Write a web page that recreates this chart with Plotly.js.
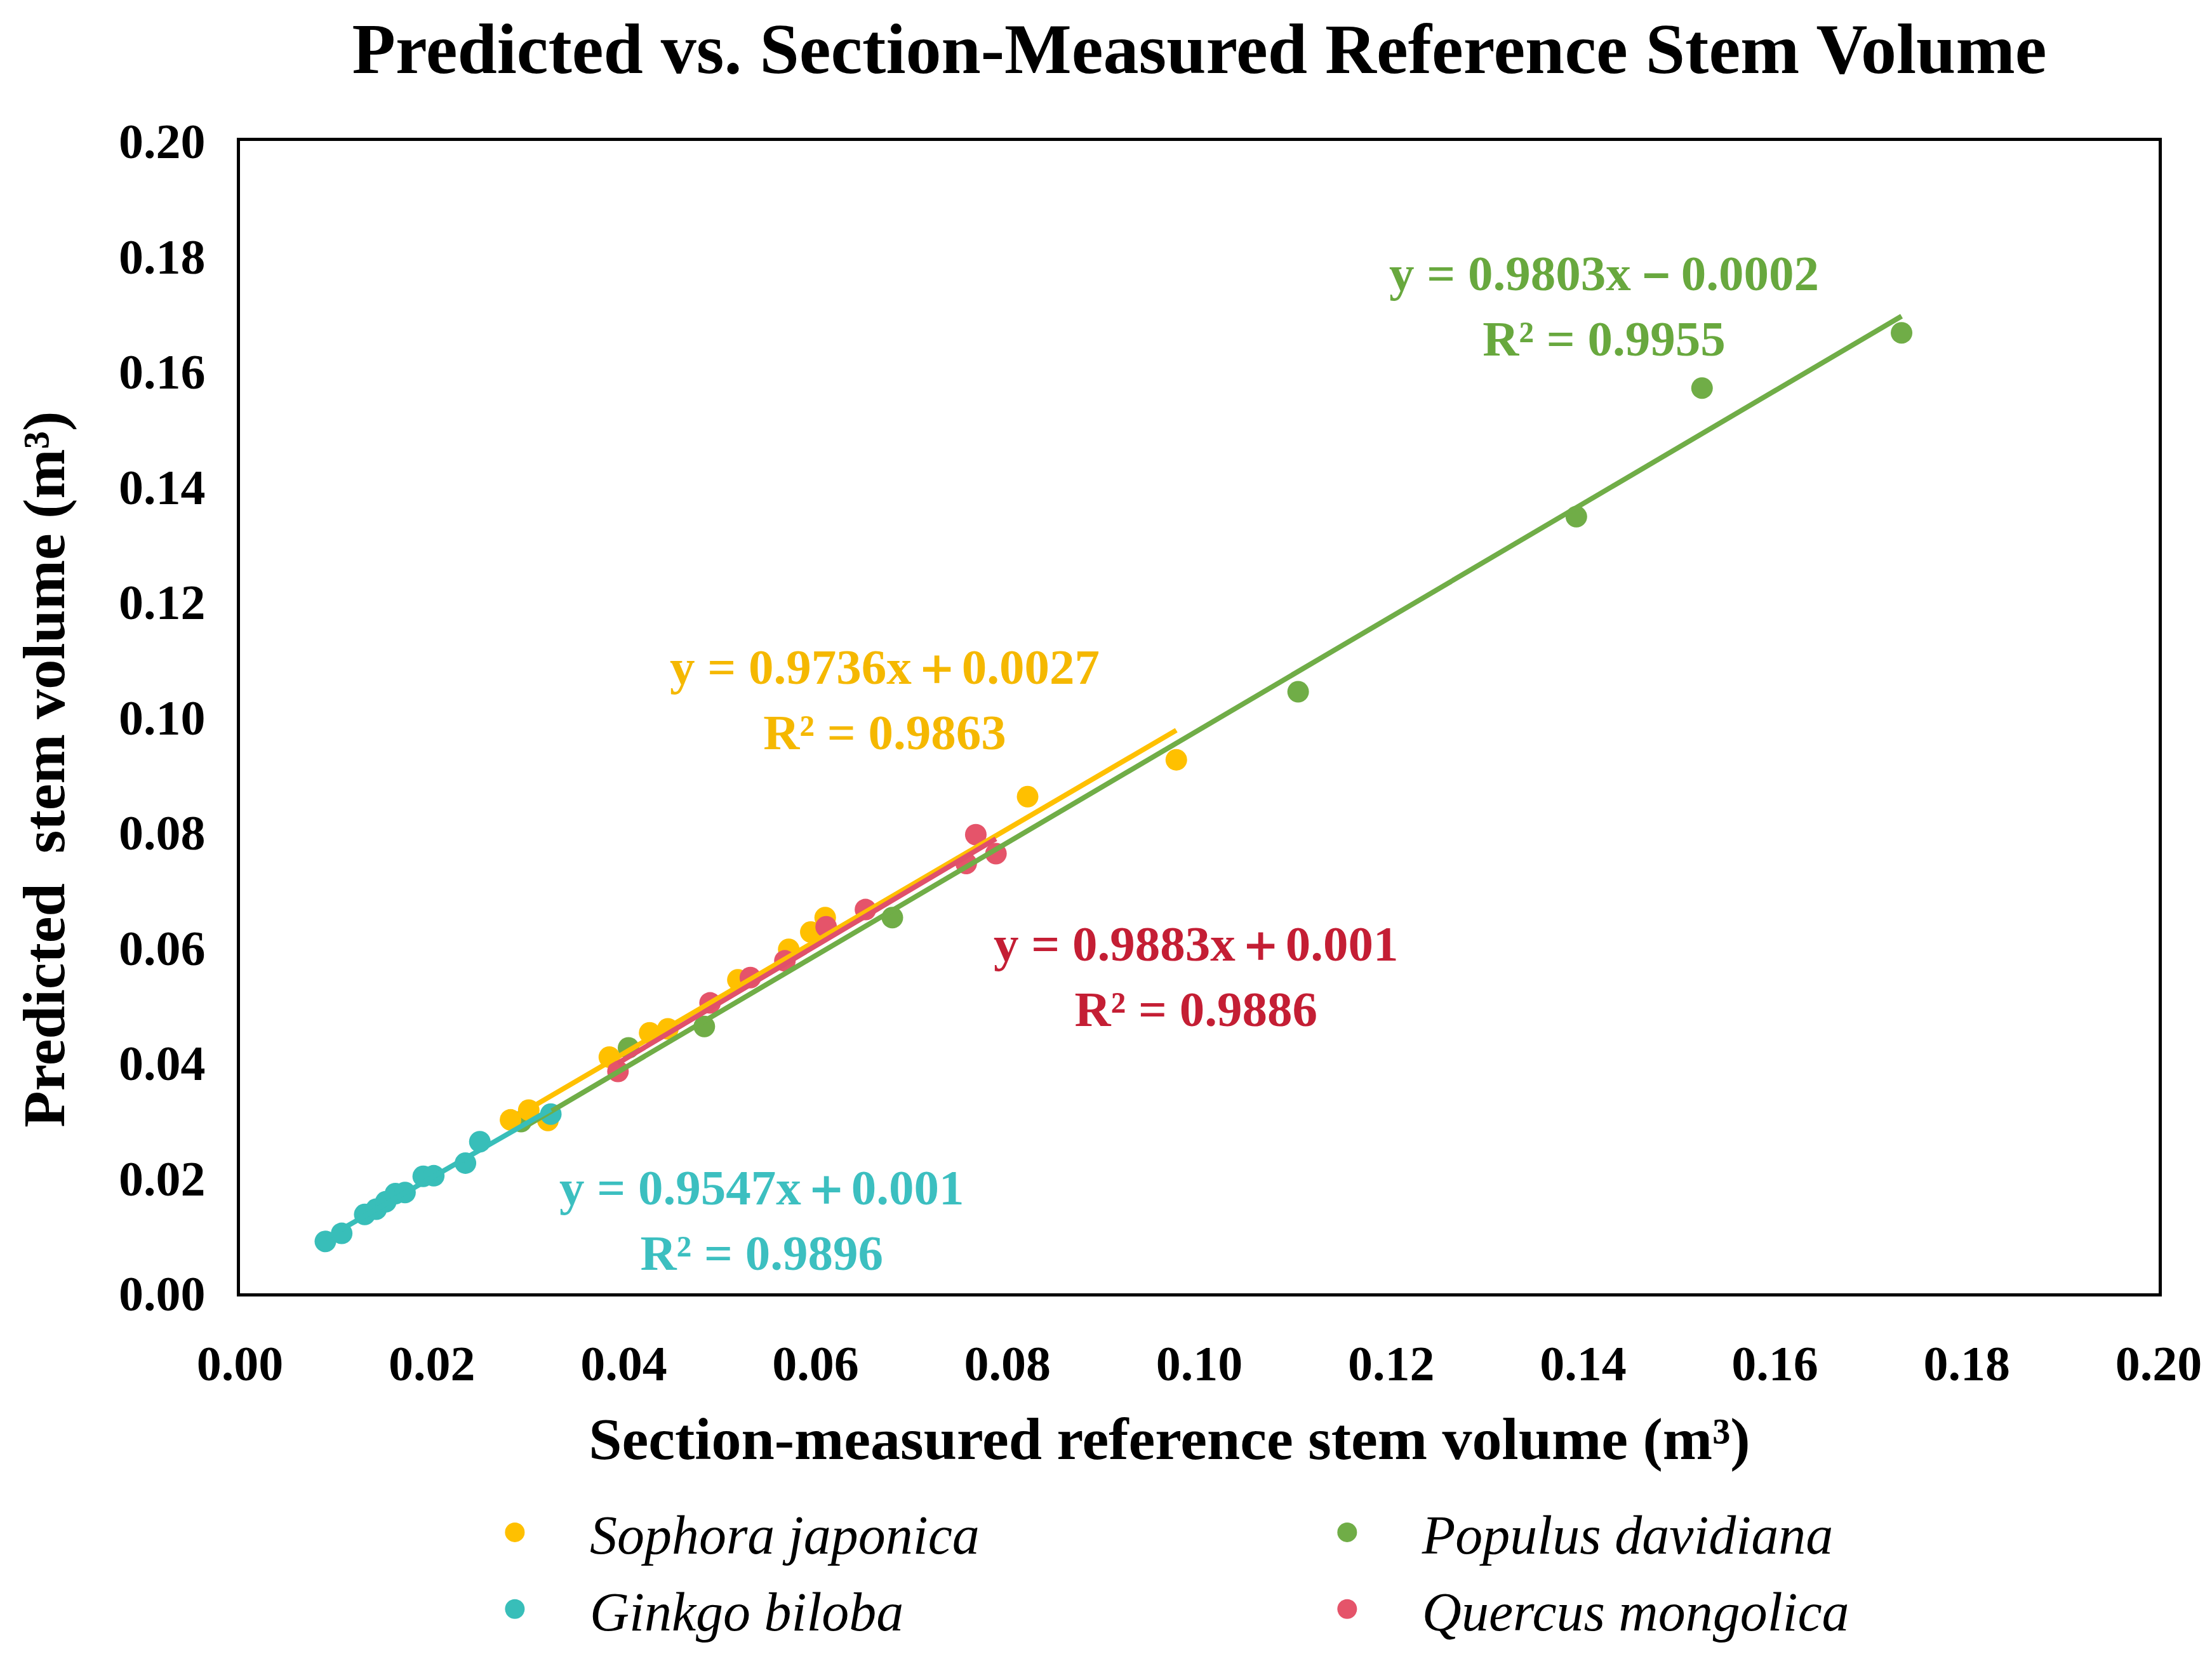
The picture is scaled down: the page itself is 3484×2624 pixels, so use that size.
<!DOCTYPE html>
<html>
<head>
<meta charset="utf-8">
<script src="https://cdn.plot.ly/plotly-3.0.1.min.js"></script>
<style>html,body{margin:0;padding:0;background:#fff;}#chart{width:3484px;height:2624px;}</style>
</head>
<body>
<div id="chart"></div>
<script>
// ---- data ----
const speciesNames = ["Sophora japonica", "Ginkgo biloba", "Populus davidiana", "Quercus mongolica"];

const sophoraX = [0.0282, 0.0301, 0.0321, 0.0385, 0.0427, 0.0446, 0.0519, 0.0572, 0.0595, 0.0610, 0.0821, 0.0976];
const sophoraY = [0.0301, 0.0318, 0.0300, 0.0410, 0.0452, 0.0459, 0.0544, 0.0597, 0.0627, 0.0652, 0.0862, 0.0926];

const ginkgoX = [0.0089, 0.0106, 0.0130, 0.0142, 0.0152, 0.0162, 0.0172, 0.0191, 0.0202, 0.0235, 0.0250, 0.0324];
const ginkgoY = [0.0090, 0.0104, 0.0137, 0.0146, 0.0159, 0.0173, 0.0175, 0.0203, 0.0204, 0.0226, 0.0263, 0.0311];

const populusX = [0.0293, 0.0405, 0.0484, 0.0680, 0.1103, 0.1393, 0.1524, 0.1732];
const populusY = [0.0298, 0.0426, 0.0463, 0.0652, 0.1044, 0.1348, 0.1571, 0.1667];

const quercusX = [0.0394, 0.0490, 0.0532, 0.0568, 0.0611, 0.0652, 0.0757, 0.0767, 0.0788];
const quercusY = [0.0385, 0.0504, 0.0548, 0.0577, 0.0636, 0.0666, 0.0746, 0.0796, 0.0763];

// fitted trend lines as printed on the chart: [Sophora, Ginkgo, Populus, Quercus]
const fitSlopes = [0.9736, 0.9547, 0.9803, 0.9883];
const fitIntercepts = [0.0027, 0.001, -0.0002, 0.001];
const fitEquations = ["y = 0.9736x＋0.0027", "y = 0.9547x＋0.001", "y = 0.9803x－0.0002", "y = 0.9883x＋0.001"];
const fitR2 = ["0.9863", "0.9896", "0.9955", "0.9886"];

const axisTicks = [0, 0.02, 0.04, 0.06, 0.08, 0.10, 0.12, 0.14, 0.16, 0.18, 0.20];

// ---- styling ----
const pointColors = ["#FFC000", "#38BEB9", "#70AD47", "#E5546A"];
const lineColors  = ["#FFC000", "#38BEB9", "#70AD47", "#E0506A"];
const textColors  = ["#F5B800", "#3CBFC0", "#68A83E", "#C41E34"];
const FONT = "Liberation Serif, Times New Roman, serif";
const NB = "\u00a0";

const seriesX = [sophoraX, ginkgoX, populusX, quercusX];
const seriesY = [sophoraY, ginkgoY, populusY, quercusY];
const legendFor = ["legend", "legend", "legend2", "legend2"];
const rank = [1, 2, 1, 2];

const traces = [];
// marker draw order: Populus, Sophora, Ginkgo, Quercus
[2, 0, 1, 3].forEach(i => {
  traces.push({
    type: "scatter", mode: "markers",
    x: seriesX[i], y: seriesY[i],
    name: speciesNames[i],
    legend: legendFor[i], legendrank: rank[i], legendgroup: "g" + i,
    marker: {color: pointColors[i], size: 34, line: {width: 0}},
    hoverinfo: "x+y+name"
  });
});
[2, 0, 3, 1].forEach(i => {
  const xs = seriesX[i];
  const x0 = Math.min(...xs), x1 = Math.max(...xs);
  traces.push({
    type: "scatter", mode: "lines",
    x: [x0, x1],
    y: [fitSlopes[i] * x0 + fitIntercepts[i], fitSlopes[i] * x1 + fitIntercepts[i]],
    line: {color: lineColors[i], width: 8},
    showlegend: false, hoverinfo: "skip"
  });
});

// annotation anchor positions (data coords) for [Sophora, Ginkgo, Populus, Quercus]
const annX = [0.0672, 0.0544, 0.1422, 0.0997];
const annY = [0.1030, 0.0127, 0.1713, 0.0550];
const annotations = [0, 1, 2, 3].map(i => ({
  x: annX[i], y: annY[i], xref: "x", yref: "y",
  text: "<b>" + fitEquations[i] + "<br>R² = " + fitR2[i] + "</b>",
  showarrow: false, align: "center",
  font: {family: FONT, size: 79, color: textColors[i]}
}));

const axisCommon = {
  range: [0, 0.2], tickvals: axisTicks, tickformat: ".2f",
  showline: true, mirror: true, linecolor: "#000", linewidth: 5,
  showgrid: false, zeroline: false, ticks: "",
  tickfont: {family: FONT, size: 78, color: "#000", weight: "bold"},
  automargin: false
};

const legendCommon = {
  xanchor: "left", y: -0.173, yanchor: "top",
  orientation: "v", itemwidth: 226, tracegroupgap: 6,
  font: {family: FONT, size: 86, color: "#000", style: "italic"},
  bgcolor: "rgba(0,0,0,0)"
};

const layout = {
  width: 3484, height: 2624,
  paper_bgcolor: "#fff", plot_bgcolor: "#fff",
  margin: {l: 378, r: 84, t: 222, b: 587},
  title: {text: "<b>Predicted vs. Section-Measured Reference Stem Volume</b>",
          font: {family: FONT, size: 112, color: "#000"},
          x: 0.5, xref: "paper", y: 0.971, yanchor: "middle"},
  xaxis: Object.assign({}, axisCommon, {
    ticklabelstandoff: 38,
    title: {text: "<b>Section-measured reference stem volume (m³)" + NB.repeat(4) + "</b>",
            font: {family: FONT, size: 94, color: "#000"}, standoff: 44}
  }),
  yaxis: Object.assign({}, axisCommon, {
    ticklabelstandoff: 34,
    title: {text: "<b>Predicted" + NB + " stem volume (m³)" + NB.repeat(7) + "</b>",
            font: {family: FONT, size: 94, color: "#000"}, standoff: 56}
  }),
  legend: Object.assign({x: 0.1042}, legendCommon),
  legend2: Object.assign({x: 0.538}, legendCommon),
  annotations: annotations,
  showlegend: true
};

Plotly.newPlot("chart", traces, layout, {staticPlot: true}).then(gd => {
  // enlarge the legend symbols (Plotly caps legend markers at 16px)
  const r = 15.5;
  gd.querySelectorAll(".legendpoints path.scatterpts").forEach(p => {
    p.setAttribute("d", "M" + r + ",0A" + r + "," + r + " 0 1,1 0,-" + r + "A" + r + "," + r + " 0 0,1 " + r + ",0Z");
  });
});
</script>
</body>
</html>
